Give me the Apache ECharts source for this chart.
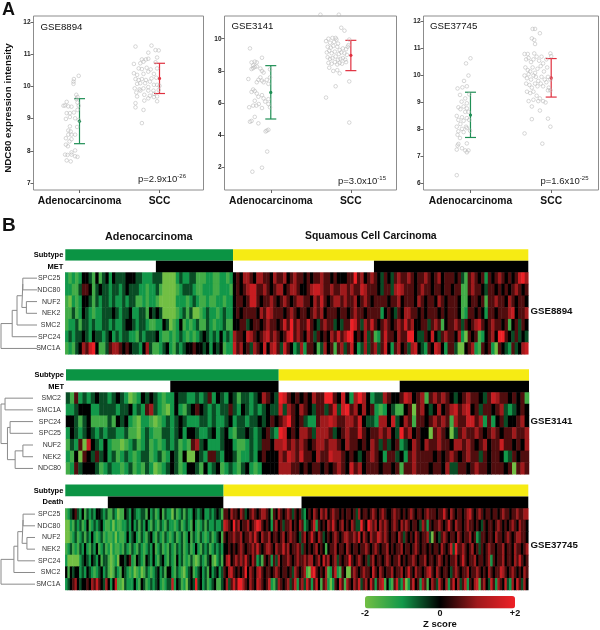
<!DOCTYPE html>
<html>
<head>
<meta charset="utf-8">
<style>html,body{margin:0;padding:0;background:#fff}#main{width:600px;height:630px}</style>
<script src="https://cdn.jsdelivr.net/npm/echarts@6/dist/echarts.min.js"></script>
</head>
<body>
<div id="main"></div>
<script>
var xLabels = ["Adenocarcinoma", "SCC"];
var s1Ticks = [7, 8, 9, 10, 11, 12];
var s2Ticks = [2, 4, 6, 8, 10];
var s3Ticks = [6, 7, 8, 9, 10, 11, 12];

// scatter points [jittered group position, NDC80 expression]
var s1Adeno = [[.99,10.33],[.93,10.23],[.925,10.15],[.925,10.08],[.96,9.74],[.975,9.67],[.96,9.61],[.84,9.52],[.975,9.5],[.82,9.41],[.86,9.38],[.9,9.37],[.99,9.4],[.8,9.4],[.975,9.27],[.93,9.19],[.84,9.17],[.88,9.17],[.83,8.99],[.88,9.05],[.945,9.01],[.99,8.96],[.88,8.76],[.86,8.63],[.97,8.74],[.89,8.6],[.86,8.5],[.9,8.5],[.945,8.5],[.83,8.39],[.9,8.36],[.875,8.29],[.83,8.19],[.855,8.14],[.945,8.01],[.9,7.95],[.82,7.88],[.85,7.87],[.9,7.88],[.975,7.81],[.84,7.7],[.89,7.67],[.945,7.83]];
var s1Scc = [[1.7,11.24],[1.9,11.27],[1.95,11.13],[1.99,11.12],[1.86,11.05],[1.97,10.9],[1.78,10.84],[1.83,10.84],[1.86,10.86],[1.68,10.7],[1.76,10.72],[1.8,10.77],[1.95,10.75],[1.74,10.56],[1.78,10.54],[1.84,10.58],[1.89,10.53],[1.97,10.56],[1.68,10.41],[1.72,10.36],[1.8,10.39],[1.86,10.46],[1.93,10.39],[1.7,10.23],[1.74,10.2],[1.78,10.23],[1.83,10.2],[1.9,10.25],[1.96,10.27],[1.72,10.08],[1.76,10.1],[1.82,10.1],[1.88,10.15],[1.93,10.05],[2,10.02],[1.69,9.94],[1.75,9.91],[1.8,9.94],[1.86,9.98],[1.97,10.05],[1.71,9.81],[1.76,9.87],[1.86,9.87],[1.925,9.87],[1.99,9.89],[1.72,9.69],[1.81,9.74],[1.88,9.71],[1.93,9.77],[1.97,9.69],[1.7,9.48],[1.81,9.56],[1.86,9.63],[1.93,9.67],[1.97,9.54],[1.7,9.35],[1.8,9.27],[1.78,8.86]];
var s2Adeno = [[.74,9.4],[.89,8.82],[.76,8.53],[.8,8.58],[.825,8.53],[.78,8.35],[.8,8.25],[.76,8.12],[.78,8.18],[.825,8.28],[.87,8.15],[.89,8],[.91,7.9],[.99,8.1],[.72,7.5],[.825,7.3],[.845,7.45],[.89,7.4],[.91,7.3],[.95,7.45],[.97,7.2],[.99,7.6],[.87,7.6],[.78,6.85],[.8,6.75],[.76,6.7],[.825,6.6],[.845,6.4],[.89,6.5],[.91,6.3],[.93,6.1],[.97,6.25],[.8,6.15],[.78,5.85],[.85,5.95],[.73,5.75],[.89,5.7],[.97,5.95],[.99,5.75],[.82,5.85],[.74,4.85],[.76,4.9],[.8,5.15],[.845,4.75],[.95,4.3],[.935,4.25],[.97,4.35],[.955,3],[.77,1.75],[.89,2]];
var s2Scc = [[1.62,11.49],[1.85,11.49],[1.88,10.68],[1.92,10.5],[1.69,9.85],[1.72,10],[1.77,10.05],[1.82,9.95],[1.81,10.05],[1.74,9.75],[1.79,9.8],[1.84,9.7],[1.98,9.95],[1.97,9.6],[1.71,9.5],[1.75,9.45],[1.78,9.55],[1.83,9.5],[1.86,9.3],[1.9,9.4],[1.94,9.35],[1.96,9.5],[1.7,9.15],[1.73,9.25],[1.76,9.1],[1.8,9.2],[1.85,9.05],[1.88,9.15],[1.92,9.1],[1.95,9],[1.71,8.85],[1.74,8.75],[1.77,8.8],[1.81,8.9],[1.84,8.7],[1.87,8.75],[1.9,8.8],[1.93,8.7],[1.72,8.5],[1.76,8.45],[1.8,8.55],[1.83,8.4],[1.86,8.5],[1.89,8.45],[1.94,8.55],[1.73,8.2],[1.78,8],[1.83,8.05],[1.86,7.85],[1.98,7.35],[1.81,7.05],[1.69,6.35],[1.98,4.8]];
var s3Adeno = [[1,10.64],[.945,10.45],[.975,10],[.92,9.8],[.84,9.52],[.9,9.56],[.955,9.6],[.87,9.28],[.985,9.3],[.935,9.15],[.89,9.03],[.955,8.97],[.85,8.82],[.915,8.85],[.955,8.78],[.875,8.75],[.935,8.65],[.975,8.65],[.83,8.5],[.895,8.45],[.955,8.42],[.85,8.35],[.915,8.32],[.985,8.35],[.875,8.2],[.945,8.1],[.83,8.1],[.895,8.02],[.955,8.05],[.995,7.95],[.85,7.93],[.915,7.9],[.84,7.8],[.87,7.68],[.955,7.48],[.85,7.46],[.83,7.25],[.895,7.3],[.935,7.22],[.975,7.22],[.84,7.4],[.955,7.15],[.83,6.3]];
var s3Scc = [[1.77,11.73],[1.8,11.73],[1.86,11.57],[1.76,11.38],[1.79,11.32],[1.8,11.17],[1.67,10.8],[1.71,10.8],[1.79,10.82],[1.88,10.7],[1.99,10.82],[2,10.72],[1.69,10.6],[1.72,10.65],[1.75,10.5],[1.78,10.6],[1.82,10.7],[1.85,10.55],[1.9,10.45],[1.94,10.6],[1.68,10.3],[1.71,10.2],[1.74,10.15],[1.77,10.3],[1.8,10.1],[1.83,10.25],[1.87,10.35],[1.91,10.15],[1.95,10.3],[1.67,10],[1.7,9.9],[1.72,10.05],[1.75,9.85],[1.78,10],[1.81,9.95],[1.84,9.8],[1.88,9.95],[1.92,9.85],[1.96,9.95],[1.99,9.85],[1.69,9.7],[1.73,9.65],[1.76,9.55],[1.8,9.7],[1.83,9.6],[1.87,9.7],[1.9,9.6],[1.94,9.75],[1.97,9.55],[1.99,9.45],[1.7,9.4],[1.74,9.35],[1.78,9.4],[1.82,9.25],[1.86,9.15],[1.9,9.05],[1.93,9],[1.96,9.45],[1.72,9.05],[1.78,9.1],[1.84,9.05],[1.76,8.85],[1.86,8.7],[1.76,8.38],[1.96,8.4],[1.99,8.1],[1.67,7.85],[1.89,7.47]];

// group position, mean, mean-sd, mean+sd
var s1Stats = [[1,8.92,8.22,9.62],[2,10.25,9.78,10.72]];
var s2Stats = [[1,6.67,5.02,8.33],[2,8.97,8.02,9.9]];
var s3Stats = [[1,8.53,7.7,9.38],[2,9.91,9.2,10.63]];

// heatmap rows, in half z-score steps (-4 = z -2, 4 = z +2)
var g1Genes = ["SPC25","NDC80","NUF2","NEK2","SMC2","SPC24","SMC1A"];
var g1SPC25 = [-2,-3,-2,-3,-2,0,0,-1,-3,0, -3,-1,0,-2,0,-1,-1,-1,0,0, 0,-1,-1,-2,-2,-2,-1,-1,-1,-4, -4,-4,-4,-2,-1,-2,-2,-1,-1,-3, -3,-3,-2,-2,-3,-3,-2,-2,-3,-2, 0,1,0,2,2,1,0,2,2,1, 1,0,2,1,1,2,0,1,2,1, 1,0,1,0,1,1,2,1,1,0, 1,0,0,0,1,1,4,1,2,0, 1,2,1,0,-1,1,0,-1,1,2, 1,1,2,1,0,1,1,2,1,0, 1,2,0,1,1,1,0,1,-1,-3, 1,2,1,0,1,-2,1,0,1,2, 1,0,1,0,1,3,4,2];
var g1NDC80 = [-2,-2,-3,-3,-1,1,1,0,-3,-1, 0,-1,-1,-2,-1,-1,-2,-1,0,-1, -1,-1,-2,-2,-3,-2,-2,-1,-3,-4, -4,-4,-4,-3,-2,-1,-1,-1,-2,-3, -3,-2,-2,-2,-3,-3,-2,-2,-2,-3, 0,1,0,1,2,3,3,1,1,2, 1,0,1,2,2,0,1,2,2,1, 0,0,1,2,3,3,2,1,1,2, 1,1,2,2,1,2,1,1,3,2, 1,1,1,0,-1,1,1,-1,2,3, 2,1,1,1,0,1,2,1,1,0, 1,1,0,1,1,0,1,1,-3,-3, 1,2,1,1,0,-1,1,1,0,1, 0,1,0,1,2,1,0,1];
var g1NUF2 = [-3,-4,-2,-3,-2,0,0,-1,-3,-1, -2,-1,-1,-2,-1,-2,-2,-1,-2,-1, -1,-3,-3,-2,-3,-2,-2,-3,-4,-4, -4,-4,-4,-2,-2,-2,-3,-2,-1,-2, -3,-3,-2,-3,-3,-2,-2,-3,-2,-2, 0,1,1,0,1,3,3,1,0,1, 1,2,1,0,1,2,1,0,1,2, 2,1,1,0,2,1,3,1,0,1, 2,2,1,2,1,1,2,0,1,2, 1,0,1,1,1,1,0,1,1,2, 0,1,1,1,0,2,1,0,1,1, 0,2,1,0,1,1,1,0,-3,-3, 0,1,1,0,1,-3,1,1,2,1, 1,0,2,1,0,1,1,0];
var g1NEK2 = [-3,-3,-1,-3,-2,0,-1,-2,-3,-2, -2,-1,-1,-1,0,-1,-2,-1,-1,0, -2,-2,-1,-1,-3,0,-1,0,-1,-4, -4,-4,-4,-3,-2,-1,-3,-1,-4,-4, -3,-2,-1,-2,-2,-3,-2,-1,-2,-2, 0,1,0,1,1,1,1,0,2,1, 3,2,1,1,1,0,1,2,1,0, 1,1,0,1,2,1,2,0,1,1, 1,0,1,1,0,1,2,1,1,0, 1,1,1,1,-2,0,1,0,-1,1, 0,2,2,1,1,0,1,0,1,1, 1,0,1,0,1,1,1,0,-3,-2, 1,1,0,1,0,-2,1,1,0,1, 1,1,2,3,0,1,1,2];
var g1SMC2 = [-3,-2,-2,-1,-3,-1,-1,-2,-1,-2, -2,-1,-1,-2,-1,-2,-2,-1,0,0, -1,-2,-1,-1,-2,-3,-3,-2,-2,0, -1,-4,-3,-2,0,-3,-2,-3,-2,-1, -3,-3,-1,-2,-3,-2,-2,-1,-3,-3, 0,0,1,1,-1,0,1,1,0,1, 2,1,1,0,1,3,1,4,1,2, 1,1,3,1,0,-1,1,2,1,1, -1,0,-1,1,1,4,3,1,-1,2, 1,3,1,0,1,2,1,0,1,2, 1,3,1,2,0,0,1,1,-1,1, 2,1,-3,0,1,1,2,1,-1,1, 0,1,2,3,1,0,1,2,1,1, 0,1,-3,0,1,-1,1,0];
var g1SPC24 = [-2,-1,-2,-1,-1,0,-1,-2,0,-1, -1,-2,-1,0,-2,-1,-2,-1,-1,-2, -2,-3,-1,-2,-1,-1,-1,0,-2,-3, -3,-2,-3,-2,-1,-2,-3,-2,-3,-2, -1,0,-1,-2,-1,-2,0,-2,-1,-2, 2,1,1,0,3,2,1,0,1,2, 3,1,2,1,0,1,3,4,1,2, 1,0,2,1,-1,1,0,1,0,2, 1,3,1,2,4,4,0,1,0,2, -1,1,-3,-2,1,3,1,1,0,2, 1,1,4,4,0,-1,-1,1,0,3, 0,-1,1,2,1,1,0,2,-2,-4, 1,0,1,-3,-2,0,1,2,0,4, 4,1,0,-1,1,-1,0,-1];
var g1SMC1A = [-3,-2,-3,-1,0,2,1,3,4,0, -3,-3,-1,1,2,2,1,0,1,0, -1,-1,-2,0,2,-1,-3,-3,-2,-1, 0,-2,-3,-1,-2,-1,0,0,1,0, 0,-1,0,-2,0,-1,0,-3,-2,-2, 3,1,2,0,1,-1,2,1,0,3, 0,2,3,1,-1,3,1,0,-2,-1, 2,-2,1,1,0,-3,-1,2,0,1, -3,1,2,-1,1,3,0,-2,-1,2, -1,1,2,-1,1,3,0,-2,1,2, 0,1,-1,2,3,0,-1,-2,1,0, 3,2,0,-2,1,1,-1,-4,-4,0, 1,2,-2,-3,1,0,1,-2,-4,1, 0,-1,-2,1,-1,0,2,3];

var g2Genes = ["SMC2","SMC1A","SPC24","SPC25","NUF2","NEK2","NDC80"];
var g2SMC2 = [-1,-3,1,-2,-1,-2,-1,0,-1,-1, -2,-1,0,-1,-2,-4,-3,-2,0,-1, 0,-1,-2,-3,-2,-2,0,-1,-1,-2, -2,-1,-2,-1,1,-2,0,-1,-2,0, -1,-3,-1,-1,-2,-1,0,2,1,0, -1, 4,3,1,0,1,0,1,0,2,1, 1,4,4,1,0,3,0,-2,2,4, 2,0,-2,-1,-1,2,1,0,0,1, 3,2,0,1,2,-3,1,2,1,2, 1,0,-1,0,1,2,1,1,0,-1, 1,3,2,1,1,0,1,0,1,-3];
var g2SMC1A = [-2,-2,-1,0,0,0,-2,-2,-1,-1, -1,-1,-2,-1,-1,0,-2,-1,-2,1, 2,-1,-2,-3,-4,-2,0,-2,-3,-1, 0,1,0,-1,-2,-1,-2,-1,-1,1, -1,-2,0,-1,-2,-1,-2,-1,0,-1, -1, 3,-1,2,1,0,2,1,0,-1,1, 1,-1,1,3,-1,3,4,1,2,0, 2,0,1,-2,-3,-2,0,-1,-3,-3, 0,1,-4,1,2,0,-1,0,2,0, 1,2,3,1,2,3,0,1,-1,1, 1,0,1,2,-1,-2,-1,0,1,0];
var g2SPC24 = [0,0,-1,-3,-1,0,-3,-3,-3,-3, -1,-3,0,-1,0,-2,-3,-4,-2,-2, -3,-4,-3,-2,-1,-2,-1,0,-1,-2, -2,-2,-1,-1,-2,-1,-2,-2,-1,0, -2,-1,-1,-2,-1,-1,0,-1,0,1, 0, 1,2,4,1,0,1,-1,-2,-2,1, 2,2,3,2,1,1,2,2,1,3, 0,-1,-1,-2,2,2,0,3,-1,0, 2,1,-3,1,1,0,1,2,1,2, 1,-3,2,1,1,3,3,1,2,-2, 1,-2,0,1,-1,0,0,1,2,0];
var g2SPC25 = [-2,0,-1,-2,-1,0,-1,-2,-1,-2, -1,-1,-2,-2,-1,-3,-3,-4,-2,-1, -2,-3,-3,-1,-1,-2,-1,0,-2,0, 0,-1,-2,-2,-1,0,-2,-1,0,-2, -3,-1,-1,0,-1,-2,-1,0,1,-1, -2, 4,3,0,1,0,2,2,1,-1,2, 2,2,1,-1,0,1,2,1,1,3, 1,0,1,1,2,1,2,0,-1,4, 1,2,0,1,0,0,-4,1,2,1, 0,-4,-1,1,2,1,1,2,1,0, 1,2,1,0,1,1,2,1,1,2];
var g2NUF2 = [-3,-1,-2,1,-4,3,0,-1,-2,0, -2,-3,-3,-4,-3,-2,-1,-3,-2,-1, -3,-2,-3,-2,-1,-2,-1,-3,-2,-3, 1,2,-1,0,-2,-2,-2,-1,0,0, -2,-3,-3,-2,-1,-2,-1,1,1,0, 2, 2,3,1,2,1,2,1,0,1,2, 2,1,2,2,1,0,2,1,1,0, 1,0,2,1,-1,1,-1,0,1,-2, -1,0,2,1,0,2,1,1,2,1, 1,0,2,2,1,2,1,0,1,2, 0,1,1,3,1,1,0,1,0,2];
var g2NEK2 = [-2,-3,0,-4,1,0,-1,1,-1,0, -2,-1,-3,-2,-1,-2,-3,-2,-1,-1, -3,-2,-1,-3,-2,0,-1,-3,0,-4, -4,0,-1,-2,1,1,-1,-2,0,0, -1,-3,-2,-2,-1,-2,0,1,0,0, 0, 2,1,3,2,1,3,1,1,0,2, 1,1,3,2,2,1,0,1,0,-1, 0,1,2,1,0,-2,1,1,-1,0, -2,1,2,1,1,1,1,0,1,0, 1,2,1,0,1,2,1,1,-1,1, 0,1,1,0,-2,-1,1,0,1,1];
var g2NDC80 = [-3,-2,1,-1,0,0,0,-1,-3,-2, -1,-2,-2,-3,-2,-1,-3,-2,-3,-1, -2,-4,-3,-2,-1,0,-1,-3,-2,0, 0,-1,-3,0,-2,-1,0,-3,-2,-1, -2,-3,-1,0,-2,-3,-2,0,0,0, 0, 2,2,2,1,1,0,1,0,1,1, 0,1,0,1,2,1,0,3,1,2, 0,1,1,1,0,1,1,0,1,-3, 1,1,2,1,1,1,0,1,1,0, 2,-1,-1,1,1,0,1,2,1,1, 0,1,1,1,0,1,-4,1,2,1];

var g3Genes = ["SPC25","NDC80","NUF2","NEK2","SPC24","SMC2","SMC1A"];
var g3SPC25 = [-3,-2,-1,0,1,-1,-2,0,-3,-1, -2,-1,-2,0,0,-1,-2,-1,-3,-3, -1,-2,-4,-3,-3,0,-1,-2,0,-1, -2,-2,-1,-1,-3,0,-2,-1,-3,-2, 0,-3,-1,-2,-2,-4,-1,-3,-2,-1, -3,-1,-2,-2,0,-1,-2,-1,0,-2, -2,-1,-2,-1,0,-1,-3, 1,1,0,2,1,1,0,2,1,-1, 0,1,2,1,0,1,2,2,1,0, -3,1,0,2,1,0,1,2,1,-1, 1,0,1,-1,-2,0,1,0,2,1, 0,2,1,2,0,1,2,1,1,0, 1,0,1,1,0,1,-1,2,0,1, 1,0,1,2,1,0,1,2,1,0, 0,1,2,1,1,0,1,0,1,2, 1,0,1,1,0,1,2,1,1,1, 0,1,1,3,1,0,2,1,0,1, 1,0,1,2,3,1,0,1,2,1, 0,1,1,0,1,1,0,1,2,1, 1,0,1,1,2,1,1,2,2];
var g3NDC80 = [-4,-4,-2,-3,-1,-2,-1,-3,-2,0, -3,-2,-1,-2,-1,0,-2,-3,-3,-2, -4,-2,-3,-3,-2,-2,-1,-2,0,-2, -1,-3,-1,-2,0,-2,-3,-1,-2,-3, -1,-2,-3,-1,-2,-2,-3,-2,-1,-3, -2,-1,-2,-3,0,-2,-3,-2,-1,-3, -1,-2,-2,-1,-2,-2,-1, 3,2,1,0,4,1,2,0,1,1, 2,0,1,2,4,3,1,0,1,0, -2,1,2,0,1,-1,1,1,2,0, 1,0,2,1,-2,-1,0,1,3,-2, 1,0,1,0,2,1,3,1,0,1, 2,0,1,0,2,1,-1,-1,4,1, 0,4,2,1,2,0,2,1,2,1, 0,1,2,1,0,2,1,2,1,0, 1,1,0,-1,2,1,-2,1,0,1, 1,2,1,0,1,3,1,0,2,1, 1,0,1,2,1,1,0,1,0,-1, 1,0,1,1,0,1,2,1,0,1, 0,1,2,1,0,2,1,1,0];
var g3NUF2 = [-4,-4,-3,-2,-1,-3,-2,-1,-3,-1, -2,0,-2,-3,-2,-1,-3,-2,-3,-3, -2,-4,-2,-3,-3,-2,0,-2,-1,0, -2,-3,-1,-2,-3,-1,0,-2,-3,-1, -2,-3,-1,-2,-3,-2,-1,-3,-2,-1, -3,-2,0,-3,-1,-2,-3,-1,-2,-3, -2,-1,-3,-2,-1,0,-3, 1,0,1,1,2,1,1,2,0,1, 1,2,1,3,1,0,2,1,1,2, 0,1,1,0,1,2,0,1,2,1, 1,0,-1,1,2,0,1,3,1,0, 2,1,-1,0,1,0,1,2,1,0, 1,2,2,1,1,2,1,3,0,2, 1,0,2,1,1,3,2,1,2,1, 0,1,1,0,2,1,-1,1,0,1, 0,2,1,0,1,1,2,-1,-4,1, 0,-1,1,2,1,0,1,1,0,2, 1,0,1,1,2,0,1,-2,-1,1, 1,0,1,1,0,2,1,1,0,1, 2,1,0,1,2,2,1,1,0];
var g3NEK2 = [-3,-2,-1,-3,-2,-3,-1,-2,0,-2, -3,-1,-2,0,-3,-2,-1,-3,-2,-4, -2,-3,-3,-2,-3,-1,-2,-3,-1,-2, -3,-1,-2,-3,-2,-1,-2,0,-3,-2, -1,-3,-2,-3,-1,-2,-3,-1,-2,-1, -3,-2,-1,-3,-2,0,-2,-3,-1,-2, -1,-3,-2,-1,-2,-1,-2, 0,0,1,0,1,0,1,2,1,0, 1,1,2,1,3,1,0,1,2,2, 1,0,2,1,1,3,1,2,0,1, 1,2,1,-1,1,0,1,0,1,2, 0,1,0,-3,0,1,1,2,0,1, 1,0,2,1,0,1,1,0,1,1, 2,1,0,1,2,1,0,1,1,2, 0,1,0,1,1,2,0,1,1,0, 1,2,1,0,1,1,0,1,0,1, 1,0,2,1,0,1,3,-1,4,1, 1,2,1,0,1,2,0,1,-1,1, 0,1,2,1,1,0,1,1,2,0, 1,1,0,2,1,1,0,1,2];
var g3SPC24 = [-2,-4,-4,-4,-4,-4,-2,-1,0,-1, -2,0,-1,-2,0,-3,-1,-1,-3,-4, -3,-2,-4,0,0,-1,0,1,-2,-3, 0,-1,-2,-3,0,-1,-2,0,-2,-3, -1,0,-2,-3,-1,-2,-3,0,-2,-1, -3,-2,-3,-1,-3,-4,-3,-1,-2,-3, -1,0,-3,-4,-2,-1,-3, 0,2,3,0,1,2,1,2,1,3, 1,0,2,1,-2,-1,-3,1,0,1, -2,1,-1,2,0,1,1,2,1,0, 1,2,1,1,2,1,2,2,0,1, 2,0,3,1,2,0,1,2,-1,1, 0,1,1,4,1,0,1,2,1,0, 1,-1,1,2,0,1,1,0,1,2, 1,0,1,1,2,0,1,0,1,1, 2,1,0,1,1,2,0,1,1,0, 1,2,1,0,1,0,1,1,2,0, 1,3,1,0,1,1,2,0,1,1, 0,1,2,-2,1,0,1,1,2,0, 1,1,0,2,1,3,1,0,1];
var g3SMC2 = [0,-3,0,-1,0,0,-2,-1,-2,0, -1,-2,-3,-2,-1,0,-2,-1,-3,-4, -3,-1,-2,-3,0,-1,-2,-3,-2,-4, -3,-2,-4,-3,-1,-2,-3,-2,-1,0, -2,-1,-3,0,0,-2,-3,-1,-2,-3, -4,-2,-1,0,-3,-2,-1,0,-2,-1, -3,0,-2,-1,0,-2,-1, 1,0,2,3,1,0,1,0,1,4, 0,2,1,0,2,3,1,0,1,1, 0,1,2,1,0,1,1,0,1,-1, 2,1,0,1,2,-3,-4,3,4,1, 0,1,0,2,-3,-2,1,3,-2,-3, 1,0,-4,-4,1,2,1,0,1,2, 1,1,0,3,1,0,2,1,0,1, 1,2,0,1,1,2,0,1,3,1, 0,2,1,1,0,1,2,3,1,0, 2,1,0,1,1,0,-1,1,2,1, 0,1,1,2,0,1,1,2,1,0, 1,0,2,1,0,1,1,3,2,1, 0,1,2,1,0,1,0,2,1];
var g3SMC1A = [-2,-1,0,1,2,0,-1,0,0,1, 0,2,1,3,1,0,-1,2,0,-2, 0,3,-3,-3,-4,-1,-2,-2,-2,0, -2,-3,0,-1,-3,-2,-1,-2,-1,0, -2,-3,-2,-1,-1,3,-2,0,-1,-3, -2,-4,-1,0,-1,4,-1,0,-2,-1, -3,-2,-1,0,-3,-3,-1, 0,2,-1,1,3,1,4,4,2,1, 0,2,1,0,3,2,1,0,1,3, -2,-3,-1,2,1,0,1,2,-1,1, 3,-2,1,2,-1,3,1,-2,1,3, 0,-3,1,2,-2,-4,-2,1,0,3, 1,-3,2,1,0,2,1,3,-1,1, 2,0,3,1,-2,1,2,3,-3,0, -2,-3,1,3,-1,-2,2,-4,-2,1, 3,0,1,-2,2,1,-3,0,2,1, -1,3,1,0,2,-2,1,3,0,2, -1,1,3,-2,1,0,2,3,-3,1, 2,0,-1,3,1,-2,2,1,0,3, -1,-2,2,0,3,1,-1,2,0];

// annotation strips: number of samples in each run, left to right
var g1Subtype = [50, 88];
var g1Met = [27, 23, 42, 46];
var g2Subtype = [51, 60];
var g2Met = [25, 26, 29, 31];
var g3Subtype = [67, 129];
var g3Death = [18, 49, 33, 96];

// dendrogram merges: [node a, node b, height]; leaves are 0-6, new nodes from 7
var g1Tree = [[0,1,14.7],[2,3,11],[7,8,15.7],[9,4,20.7],[10,5,25.7],[11,6,37.3]];
var g2Tree = [[0,1,27.7],[2,3,22.7],[4,5,10],[9,6,17.7],[8,10,25.3],[7,11,31.7]];
var g3Tree = [[0,1,12.3],[2,3,8.3],[7,8,13.3],[9,4,17.7],[10,5,21.7],[11,6,35]];

var zLabels = {"-2":"-2", "0":"0", "2":"+2"};

var FONT = "Liberation Sans";
var greyFrame = "#8c8c8c";

function cellsOf(rows){
	var out = [];
	for(var r=0;r<rows.length;r++){
		for(var c=0;c<rows[r].length;c++){
			out.push([c, r, rows[r][c]/2]);
		}
	}
	return out;
}
function range(n){
	var a = [];
	for(var i=0;i<n;i++) a.push(i);
	return a;
}
function treeSegs(merges){
	var y = range(7), h = [0,0,0,0,0,0,0], out = [];
	merges.forEach(function(m){
		var a = m[0], b = m[1], ht = m[2];
		out.push([h[a],y[a]],[ht,y[a]],[ht,y[b]],[h[b],y[b]],["-","-"]);
		y.push((y[a]+y[b])/2);
		h.push(ht);
	});
	return out;
}

var grid = [], xAxis = [], yAxis = [], series = [], heatIdx = [];

function addScatter(left, width, xMin, xMax, yMin, yMax, ticks, adeno, scc, stats){
	var i = grid.length;
	grid.push({left:left, top:16, width:width, height:174, show:true, borderColor:greyFrame, borderWidth:1, backgroundColor:"#fff"});
	xAxis.push({type:"value", gridIndex:i, min:xMin, max:xMax, splitLine:{show:false}, axisLine:{show:false},
		axisTick:{length:3, lineStyle:{color:"#666"}, customValues:[1,2]},
		axisLabel:{customValues:[1,2], margin:6, fontFamily:FONT, fontWeight:"bold", fontSize:10.3, color:"#111",
			formatter:function(v){ return xLabels[v-1]; }}});
	yAxis.push({type:"value", gridIndex:i, min:yMin, max:yMax, splitLine:{show:false}, axisLine:{show:false},
		axisTick:{length:3, lineStyle:{color:"#666"}, customValues:ticks},
		axisLabel:{customValues:ticks, margin:3, fontFamily:FONT, fontWeight:"bold", fontSize:6.5, color:"#222"}});
	[adeno, scc].forEach(function(pts){
		series.push({type:"scatter", xAxisIndex:i, yAxisIndex:i, data:pts, symbolSize:3.6, clip:false,
			itemStyle:{color:"rgba(255,255,255,0)", borderColor:"#b8b8b8", borderWidth:0.7}});
	});
	series.push({type:"custom", xAxisIndex:i, yAxisIndex:i, data:stats, clip:false,
		encode:{x:0, y:[1,2,3]},
		renderItem:function(params, api){
			var c = params.dataIndex==0 ? "#1f8f55" : "#e0303f";
			var x = api.value(0);
			var m = api.coord([x, api.value(1)]);
			var lo = api.coord([x, api.value(2)]);
			var hi = api.coord([x, api.value(3)]);
			var st = {stroke:c, lineWidth:1.2, fill:null};
			return {type:"group", children:[
				{type:"line", shape:{x1:m[0],y1:lo[1],x2:m[0],y2:hi[1]}, style:st},
				{type:"line", shape:{x1:m[0]-5.5,y1:lo[1],x2:m[0]+5.5,y2:lo[1]}, style:st},
				{type:"line", shape:{x1:m[0]-5.5,y1:hi[1],x2:m[0]+5.5,y2:hi[1]}, style:st},
				{type:"circle", shape:{cx:m[0],cy:m[1],r:1.6}, style:{fill:c}}
			]};
		}});
}

function addHeat(left, width, top, height, rows, genes){
	var i = grid.length, n = rows[0].length;
	grid.push({left:left, top:top, width:width, height:height});
	xAxis.push({type:"category", gridIndex:i, data:range(n), show:false});
	yAxis.push({type:"category", gridIndex:i, data:genes, inverse:true, axisLine:{show:false}, axisTick:{show:false},
		axisLabel:{margin:5, fontFamily:FONT, fontSize:7, color:"#333"}});
	heatIdx.push(series.length);
	series.push({type:"heatmap", xAxisIndex:i, yAxisIndex:i, data:cellsOf(rows), progressive:0, animation:false});
}

function addStrip(left, width, top, height, total, names, subtype, runs){
	var i = grid.length;
	grid.push({left:left, top:top, width:width, height:height});
	xAxis.push({type:"value", gridIndex:i, min:0, max:total, show:false});
	yAxis.push({type:"category", gridIndex:i, data:names, inverse:true, axisLine:{show:false}, axisTick:{show:false},
		axisLabel:{margin:2, fontFamily:FONT, fontWeight:"bold", fontSize:7.5, color:"#000"}});
	var subColors = ["#0b9444","#f6eb14"];
	var runColors = ["#ffffff","#000000","#ffffff","#000000"];
	runs.forEach(function(v, k){
		var d = [];
		d.push(k<2 ? {value:subtype[k], itemStyle:{color:subColors[k]}} : 0);
		d.push({value:v, itemStyle:{color:runColors[k]}});
		series.push({type:"bar", stack:"s"+i, xAxisIndex:i, yAxisIndex:i, data:d, barWidth:"100%", silent:true});
	});
}

function addTree(width, top, height, merges){
	var i = grid.length, segs = treeSegs(merges);
	grid.push({left:1, top:top, width:width, height:height});
	xAxis.push({type:"value", gridIndex:i, inverse:true, min:0, max:merges[merges.length-1][2], show:false});
	yAxis.push({type:"value", gridIndex:i, inverse:true, min:-0.5, max:6.5, show:false});
	series.push({type:"line", xAxisIndex:i, yAxisIndex:i, data:segs, showSymbol:false, clip:false, connectNulls:false,
		lineStyle:{color:"#8a8a8a", width:1}});
}

addScatter(33.5, 170, 0.425, 2.55, 6.78, 12.19, s1Ticks, s1Adeno, s1Scc, s1Stats);
addScatter(224.5, 172, 0.422, 2.57, 0.615, 11.41, s2Ticks, s2Adeno, s2Scc, s2Stats);
addScatter(423.5, 175, 0.418, 2.586, 5.75, 12.21, s3Ticks, s3Adeno, s3Scc, s3Stats);

addHeat(65.3, 463, 272.3, 82, [g1SPC25,g1NDC80,g1NUF2,g1NEK2,g1SMC2,g1SPC24,g1SMC1A], g1Genes);
addHeat(66, 463, 392.3, 82, [g2SMC2,g2SMC1A,g2SPC24,g2SPC25,g2NUF2,g2NEK2,g2NDC80], g2Genes);
addHeat(65.3, 463, 508.3, 81.7, [g3SPC25,g3NDC80,g3NUF2,g3NEK2,g3SPC24,g3SMC2,g3SMC1A], g3Genes);

addStrip(65.3, 463, 249.3, 23, 138, ["Subtype","MET"], g1Subtype, g1Met);
addStrip(66, 463, 369.3, 23, 111, ["Subtype","MET"], g2Subtype, g2Met);
addStrip(65.3, 463, 484.5, 23.8, 196, ["Subtype","Death"], g3Subtype, g3Death);

addTree(36, 272.3, 82, g1Tree);
addTree(32, 392.3, 82, g2Tree);
addTree(34, 508.3, 81.7, g3Tree);

// colour bar tick labels
grid.push({left:365, top:596, width:150, height:12.5});
xAxis.push({type:"value", gridIndex:grid.length-1, min:-2, max:2, interval:2, axisLine:{show:false}, axisTick:{show:false}, splitLine:{show:false},
	name:"Z score", nameLocation:"middle", nameGap:20, nameTextStyle:{fontFamily:FONT, fontWeight:"bold", fontSize:9.5, color:"#111"},
	axisLabel:{margin:10, fontFamily:FONT, fontWeight:"bold", fontSize:9, color:"#111", hideOverlap:false, formatter:function(v){ return zLabels[v]; }}});
yAxis.push({type:"value", gridIndex:grid.length-1, show:false, min:0, max:1});

function text(x, y, s, size, bold, extra){
	var st = {x:x, y:y, text:s, fontFamily:FONT, fontSize:size, fontWeight:bold?"bold":"normal", fill:"#111", textVerticalAlign:"middle"};
	for(var k in extra) st[k] = extra[k];
	return {type:"text", style:st, z:10};
}
function pText(x, y, mant, exp){
	return {type:"text", x:x, y:y, z:10, style:{text:"{a|"+mant+"}{b|"+exp+"}", fontFamily:FONT, verticalAlign:"middle",
		rich:{a:{fontFamily:FONT, fontSize:9.5, fill:"#222", lineHeight:12}, b:{fontFamily:FONT, fontSize:6, fill:"#222", verticalAlign:"top", lineHeight:12, padding:[0,0,4,0]}}}};
}

var graphic = [
	text(2, 10, "A", 18, true),
	text(2, 226, "B", 19, true),
	{type:"text", x:8, y:108, rotation:Math.PI/2, z:10, style:{text:"NDC80 expression intensity", fontFamily:FONT, fontWeight:"bold", fontSize:9.8, fill:"#111", align:"center", verticalAlign:"middle"}},
	text(40.5, 27, "GSE8894", 9.7, false),
	text(231.5, 26, "GSE3141", 9.7, false),
	text(430, 26, "GSE37745", 9.7, false),
	pText(138, 179, "p=2.9x10", "-26"),
	pText(338, 181, "p=3.0x10", "-15"),
	pText(540.5, 181, "p=1.6x10", "-25"),
	text(105, 236.7, "Adenocarcinoma", 10.8, true),
	text(305, 236, "Squamous Cell Carcinoma", 10.4, true),
	text(530.5, 311, "GSE8894", 9.7, true),
	text(530.5, 421.7, "GSE3141", 9.7, true),
	text(530.5, 545.7, "GSE37745", 9.7, true)
];

var chart = echarts.init(document.getElementById("main"), null, {renderer:"canvas"});
chart.setOption({
	animation:false,
	backgroundColor:"#fff",
	tooltip:{show:false},
	grid:grid, xAxis:xAxis, yAxis:yAxis, series:series, graphic:graphic,
	visualMap:[{type:"continuous", min:-2, max:2, seriesIndex:heatIdx, orient:"horizontal", left:365, top:596, padding:0,
		itemWidth:12.5, itemHeight:150, calculable:false, text:null, showLabel:false, hoverLink:false, realtime:false,
		inRange:{color:["#72bf44","#12984a","#000000","#a01a1c","#ee2026"]}}]
});
</script>
</body>
</html>
